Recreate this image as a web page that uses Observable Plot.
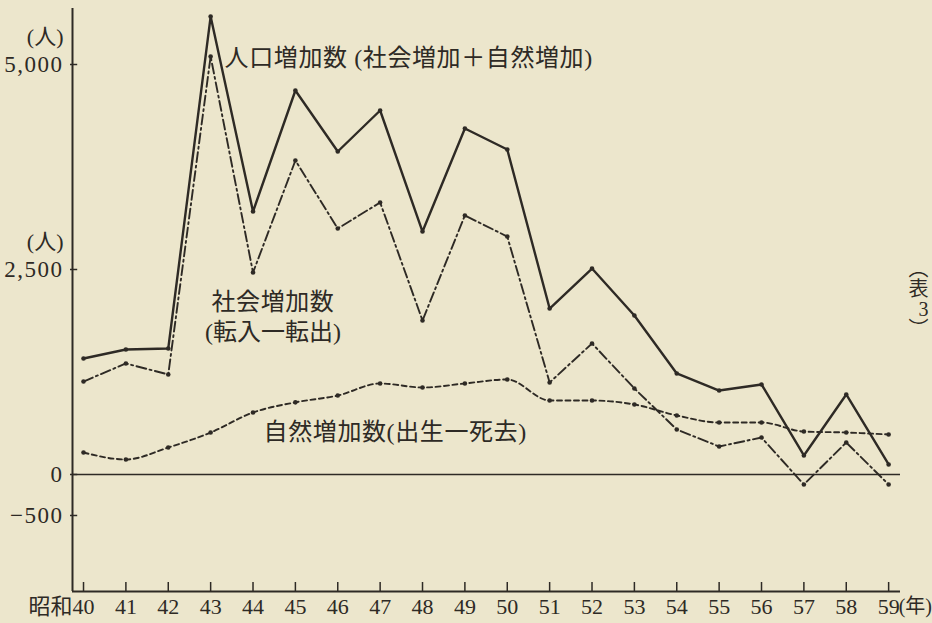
<!DOCTYPE html>
<html>
<head>
<meta charset="utf-8">
<script src="https://cdn.jsdelivr.net/npm/d3@7"></script>
<script src="https://cdn.jsdelivr.net/npm/@observablehq/plot@0.6"></script>
<style>
  html, body { margin: 0; padding: 0; background: #ece6cc; }
  #chart { width: 932px; height: 623px; overflow: hidden; }
</style>
</head>
<body>
<div id="chart"></div>
<script>
// ---- data (昭和40〜59年) ----
const years = [40, 41, 42, 43, 44, 45, 46, 47, 48, 49, 50, 51, 52, 53, 54, 55, 56, 57, 58, 59];
const totalIncrease   = [1415, 1524, 1537, 5585, 3207, 4683, 3939, 4439, 2963, 4220, 3963, 2024, 2512, 1939, 1232, 1024, 1098, 232, 976, 122];
const socialIncrease  = [1134, 1354, 1220, 5098, 2463, 3829, 3000, 3317, 1878, 3159, 2902, 1122, 1598, 1049, 549, 341, 451, -122, 390, -122];
const naturalIncrease = [268, 183, 329, 512, 756, 880, 963, 1110, 1061, 1110, 1159, 902, 902, 854, 720, 634, 634, 524, 512, 488];

const yTicks = [5000, 2500, 0, -500];
const unitLabel = "(人)";
const unitLabelTicks = [5000, 2500];
const xPrefix = "昭和";
const xSuffix = "(年)";
const sideNote = "︵\n表\n3\n︶";

const labelTotal = "人口増加数 (社会増加＋自然増加)";
const labelSocial1 = "社会増加数";
const labelSocial2 = "(転入一転出)";
const labelNatural = "自然増加数(出生一死去)";

// scale extents (axis frame)
const xDomain = [39.74, 59.28];
const yDomain = [-1427, 5683];

const ink = "#2e2a25";
const font = "'Liberation Serif', 'Noto Sans CJK JP', serif";

const rows = (vals) => years.map((y, i) => ({year: y, value: vals[i]}));
const total = rows(totalIncrease);
const social = rows(socialIncrease);
const natural = rows(naturalIncrease);

const startLabels = [
  {x: 43.33, y: 5073, text: labelTotal},
  {x: 44.25, y: 512, text: labelNatural}
];
const middleLabels = [
  {x: 44.47, y: 2098, text: labelSocial1},
  {x: 44.47, y: 1732, text: labelSocial2}
];

const chart = Plot.plot({
  width: 932,
  height: 623,
  marginLeft: 72,
  marginRight: 32,
  marginTop: 8,
  marginBottom: 32,
  x: {domain: xDomain, label: null},
  y: {domain: yDomain, label: null},
  style: {background: "#ece6cc", color: ink, fontFamily: font, fontSize: "22px", overflow: "visible"},
  marks: [
    // axis lines
    Plot.ruleX([xDomain[0]], {stroke: ink, strokeWidth: 2}),
    Plot.ruleY([yDomain[0]], {stroke: ink, strokeWidth: 2}),
    Plot.ruleY([0], {stroke: ink, strokeWidth: 1.4}),
    // y ticks crossing the axis
    Plot.ruleY(yTicks, {x1: xDomain[0], x2: xDomain[0] + 0.17, dx: -2, stroke: ink, strokeWidth: 1.5}),
    // x ticks pointing upward
    Plot.ruleX(years, {y1: yDomain[0], y2: yDomain[0] + 110, stroke: ink, strokeWidth: 1.5}),
    Plot.axisY({ticks: yTicks, tickFormat: d3.format(","), tickSize: 0, tickPadding: 9, fontSize: 23}),
    Plot.axisX({ticks: years, tickFormat: d => String(d), tickSize: 0, tickPadding: 7, fontSize: 22}),
    Plot.text([years[0]], {x: d => d, text: () => xPrefix, frameAnchor: "bottom", lineAnchor: "top", textAnchor: "end", dx: -11, dy: 7, fontSize: 22}),
    Plot.text([years[years.length - 1]], {x: d => d, text: () => xSuffix, frameAnchor: "bottom", lineAnchor: "top", textAnchor: "start", dx: 10, dy: 7, fontSize: 20}),
    Plot.text(unitLabelTicks, {y: d => d, text: () => unitLabel, frameAnchor: "left", textAnchor: "end", dx: -9, dy: -28, fontSize: 22}),
    // series
    Plot.line(natural, {x: "year", y: "value", stroke: ink, strokeWidth: 1.9, strokeDasharray: "5,3.5", curve: "monotone-x"}),
    Plot.line(social, {x: "year", y: "value", stroke: ink, strokeWidth: 1.9, strokeDasharray: "10,3.5,2,3.5"}),
    Plot.line(total, {x: "year", y: "value", stroke: ink, strokeWidth: 2.4}),
    Plot.dot(natural, {x: "year", y: "value", r: 2.3, fill: ink}),
    Plot.dot(social, {x: "year", y: "value", r: 2.3, fill: ink}),
    Plot.dot(total, {x: "year", y: "value", r: 2.3, fill: ink}),
    // labels
    Plot.text(startLabels, {x: "x", y: "y", text: "text", textAnchor: "start", fontSize: 24, fill: ink}),
    Plot.text(middleLabels, {x: "x", y: "y", text: "text", textAnchor: "middle", fontSize: 24, fill: ink}),
    Plot.text([sideNote], {text: d => d, frameAnchor: "right", dx: 28, fontSize: 20, lineHeight: 1.0, fill: ink})
  ]
});

// wider spacing of the y tick numerals, as in the printed figure
d3.select(chart).selectAll("g[aria-label='y-axis tick label'] text").style("letter-spacing", "1.5px");
d3.select(chart).selectAll("g[aria-label='text'] text").filter(function() {
  return /[増加]/.test(this.textContent);
}).style("letter-spacing", "0.6px");

document.getElementById("chart").appendChild(chart);
</script>
</body>
</html>
